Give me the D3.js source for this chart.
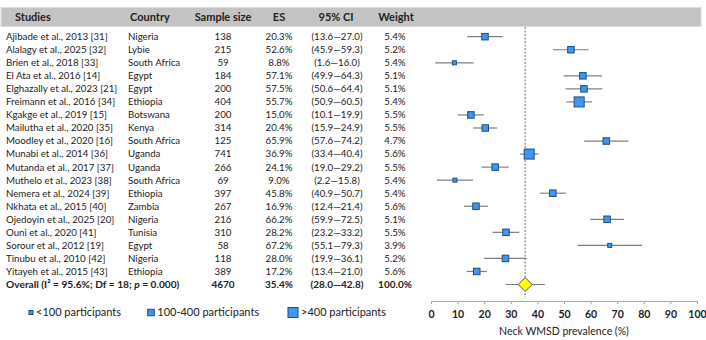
<!DOCTYPE html>
<html>
<head>
<meta charset="utf-8">
<title>Neck WMSD forest plot</title>
<script src="https://cdn.jsdelivr.net/npm/d3@7"></script>
<style>
  body { margin: 0; background: #fff; }
  text { font-family: Lato, "Open Sans", sans-serif; fill: #222; }
</style>
</head>
<body>
<script>
// study rows
var studies = ["Ajibade et al., 2013 [31]", "Alalagy et al., 2025 [32]", "Brien et al., 2018 [33]",
  "El Ata et al., 2016 [14]", "Elghazally et al., 2023 [21]", "Freimann et al., 2016 [34]",
  "Kgakge et al., 2019 [15]", "Mailutha et al., 2020 [35]", "Moodley et al., 2020 [16]",
  "Munabi et al., 2014 [36]", "Mutanda et al., 2017 [37]", "Muthelo et al., 2023 [38]",
  "Nemera et al., 2024 [39]", "Nkhata et al., 2015 [40]", "Ojedoyin et al., 2025 [20]",
  "Ouni et al., 2020 [41]", "Sorour et al., 2012 [19]", "Tinubu et al., 2010 [42]",
  "Yitayeh et al., 2015 [43]"];
var countries = ["Nigeria", "Lybie", "South Africa", "Egypt", "Egypt", "Ethiopia", "Botswana",
  "Kenya", "South Africa", "Uganda", "Uganda", "South Africa", "Ethiopia", "Zambia", "Nigeria",
  "Tunisia", "Egypt", "Nigeria", "Ethiopia"];
var sampleSizes = [138, 215, 59, 184, 200, 404, 200, 314, 125, 741, 266, 69, 397, 267, 216, 310, 58, 118, 389];
var es = [20.3, 52.6, 8.8, 57.1, 57.5, 55.7, 15.0, 20.4, 65.9, 36.9, 24.1, 9.0, 45.8, 16.9, 66.2, 28.2, 67.2, 28.0, 17.2];
var ciLow = [13.6, 45.9, 1.6, 49.9, 50.6, 50.9, 10.1, 15.9, 57.6, 33.4, 19.0, 2.2, 40.9, 12.4, 59.9, 23.2, 55.1, 19.9, 13.4];
var ciHigh = [27.0, 59.3, 16.0, 64.3, 64.4, 60.5, 19.9, 24.9, 74.2, 40.4, 29.2, 15.8, 50.7, 21.4, 72.5, 33.2, 79.3, 36.1, 21.0];
var weights = [5.4, 5.2, 5.4, 5.1, 5.1, 5.4, 5.5, 5.5, 4.7, 5.6, 5.5, 5.4, 5.4, 5.6, 5.1, 5.5, 3.9, 5.2, 5.6];

// pooled estimate
var overallN = 4670, overallES = 35.4, overallLow = 28.0, overallHigh = 42.8, overallWeight = 100.0;

var xTicks = [0, 10, 20, 30, 40, 50, 60, 70, 80, 90, 100];
var sizeClasses = ["<100 participants", "100-400 participants", ">400 participants"];

var W = 706, H = 340;
var svg = d3.select("body").append("svg").attr("width", W).attr("height", H);

var rowIdx = d3.range(studies.length + 1);
var y = d3.scalePoint().domain(rowIdx).range([36.7, 284.5]);
var x = d3.scaleLinear().domain([0, 100]).range([431, 697]);
var fmt = d3.format(".1f");

function sizeClass(n) { return n < 100 ? 0 : (n <= 400 ? 1 : 2); }
var boxSize = [4, 6.5, 10];

// header band
svg.append("rect").attr("x", 1).attr("y", 7.5).attr("width", 700).attr("height", 19)
  .attr("fill", "#c3c3c3").attr("stroke", "#dcdcdc");

var cols = [
  { title: "Studies", x: 6, anchor: "start", hx: 15 },
  { title: "Country", x: 128, anchor: "start", hx: 130 },
  { title: "Sample size", x: 223, anchor: "middle", hx: 223 },
  { title: "ES", x: 279, anchor: "middle", hx: 279 },
  { title: "95% CI", x: 337, anchor: "middle", hx: 336 },
  { title: "Weight", x: 395, anchor: "middle", hx: 396 }
];
svg.selectAll("text.hdr").data(cols).join("text")
  .attr("class", "hdr")
  .attr("x", function(d) { return d.hx; })
  .attr("y", 17).attr("dy", "0.35em")
  .attr("text-anchor", function(d) { return d.title === "Studies" ? "start" : d.anchor; })
  .attr("font-size", 11).attr("font-weight", "bold")
  .text(function(d) { return d.title; });

var rows = studies.map(function(s, i) {
  return [s, countries[i], sampleSizes[i], fmt(es[i]) + "%",
    "(" + fmt(ciLow[i]) + "\u2014" + fmt(ciHigh[i]) + ")", fmt(weights[i]) + "%"];
});

var tbl = svg.append("g").attr("font-size", 9.7);
rows.forEach(function(r, i) {
  r.forEach(function(v, c) {
    tbl.append("text").attr("x", cols[c].x).attr("y", y(i)).attr("dy", "0.35em")
      .attr("text-anchor", cols[c].anchor).text(v);
  });
});

// overall row
var oi = studies.length;
svg.append("text").attr("x", 6).attr("y", y(oi)).attr("dy", "0.35em")
  .attr("font-size", 10.2).attr("font-weight", "bold")
  .call(function(t) {
    t.append("tspan").text("Overall (I\u00b2 = 95.6%; Df = 18; ");
    t.append("tspan").attr("font-style", "italic").text("p");
    t.append("tspan").text(" = 0.000)");
  });
[overallN, fmt(overallES) + "%", "(" + fmt(overallLow) + "\u2014" + fmt(overallHigh) + ")", fmt(overallWeight) + "%"]
  .forEach(function(v, k) {
    var c = cols[k + 2];
    svg.append("text").attr("x", c.x).attr("y", y(oi)).attr("dy", "0.35em")
      .attr("text-anchor", c.anchor).attr("font-size", 10).attr("font-weight", "bold").text(v);
  });

// reference line at pooled estimate
svg.append("line").attr("x1", x(overallES)).attr("x2", x(overallES))
  .attr("y1", 27).attr("y2", 297)
  .attr("stroke", "#888").attr("stroke-width", 1.2).attr("stroke-dasharray", "2,1.5");

// whiskers and boxes
var plot = svg.append("g");
plot.selectAll("line.ci").data(studies).join("line").attr("class", "ci")
  .attr("x1", function(d, i) { return x(ciLow[i]); })
  .attr("x2", function(d, i) { return x(ciHigh[i]); })
  .attr("y1", function(d, i) { return y(i); })
  .attr("y2", function(d, i) { return y(i); })
  .attr("stroke", "#7f7f7f").attr("stroke-width", 1.2);

plot.selectAll("rect.box").data(studies).join("rect").attr("class", "box")
  .each(function(d, i) {
    var s = boxSize[sizeClass(sampleSizes[i])];
    d3.select(this).attr("x", x(es[i]) - s / 2).attr("y", y(i) - s / 2)
      .attr("width", s).attr("height", s);
  })
  .attr("fill", "#3d97ee").attr("stroke", "#1f4e79").attr("stroke-width", 1);

// pooled diamond
plot.append("line").attr("x1", x(overallLow)).attr("x2", x(overallHigh))
  .attr("y1", y(oi)).attr("y2", y(oi)).attr("stroke", "#7f7f7f").attr("stroke-width", 1.2);
var cx = x(overallES), cy = y(oi), r = 7;
plot.append("path")
  .attr("d", "M" + (cx - r) + "," + cy + "L" + cx + "," + (cy - r) + "L" + (cx + r) + "," + cy + "L" + cx + "," + (cy + r) + "Z")
  .attr("fill", "#ffff00").attr("stroke", "#555").attr("stroke-width", 1);

// x axis
var axis = svg.append("g").attr("transform", "translate(0,301)")
  .call(d3.axisBottom(x).tickValues(xTicks).tickSize(3).tickSizeOuter(0).tickFormat(d3.format("d")));
axis.select(".domain").attr("stroke", "#a6a6a6");
axis.selectAll(".tick line").attr("stroke", "#a6a6a6");
axis.selectAll(".tick text").attr("font-family", "Lato, 'Open Sans', sans-serif")
  .attr("font-size", 10.5).attr("font-weight", "bold").attr("fill", "#222").attr("y", 10);

svg.append("text").attr("x", x(50)).attr("y", 331).attr("dy", "0.35em")
  .attr("text-anchor", "middle").attr("font-size", 10.5).attr("fill", "#333")
  .text("Neck WMSD prevalence (%)");

// legend
var legX = [31, 151, 293];
var lg = svg.selectAll("g.leg").data(sizeClasses).join("g").attr("class", "leg")
  .attr("transform", function(d, i) { return "translate(" + legX[i] + ",312.5)"; });
lg.append("rect")
  .attr("x", function(d, i) { return -boxSize[i] / 2; })
  .attr("y", function(d, i) { return -boxSize[i] / 2; })
  .attr("width", function(d, i) { return boxSize[i]; })
  .attr("height", function(d, i) { return boxSize[i]; })
  .attr("fill", "#3d97ee").attr("stroke", "#1f4e79").attr("stroke-width", 1);
lg.append("text")
  .attr("x", function(d, i) { return boxSize[i] / 2 + 3; })
  .attr("dy", "0.35em").attr("font-size", 11).text(function(d) { return d; });
</script>
</body>
</html>
